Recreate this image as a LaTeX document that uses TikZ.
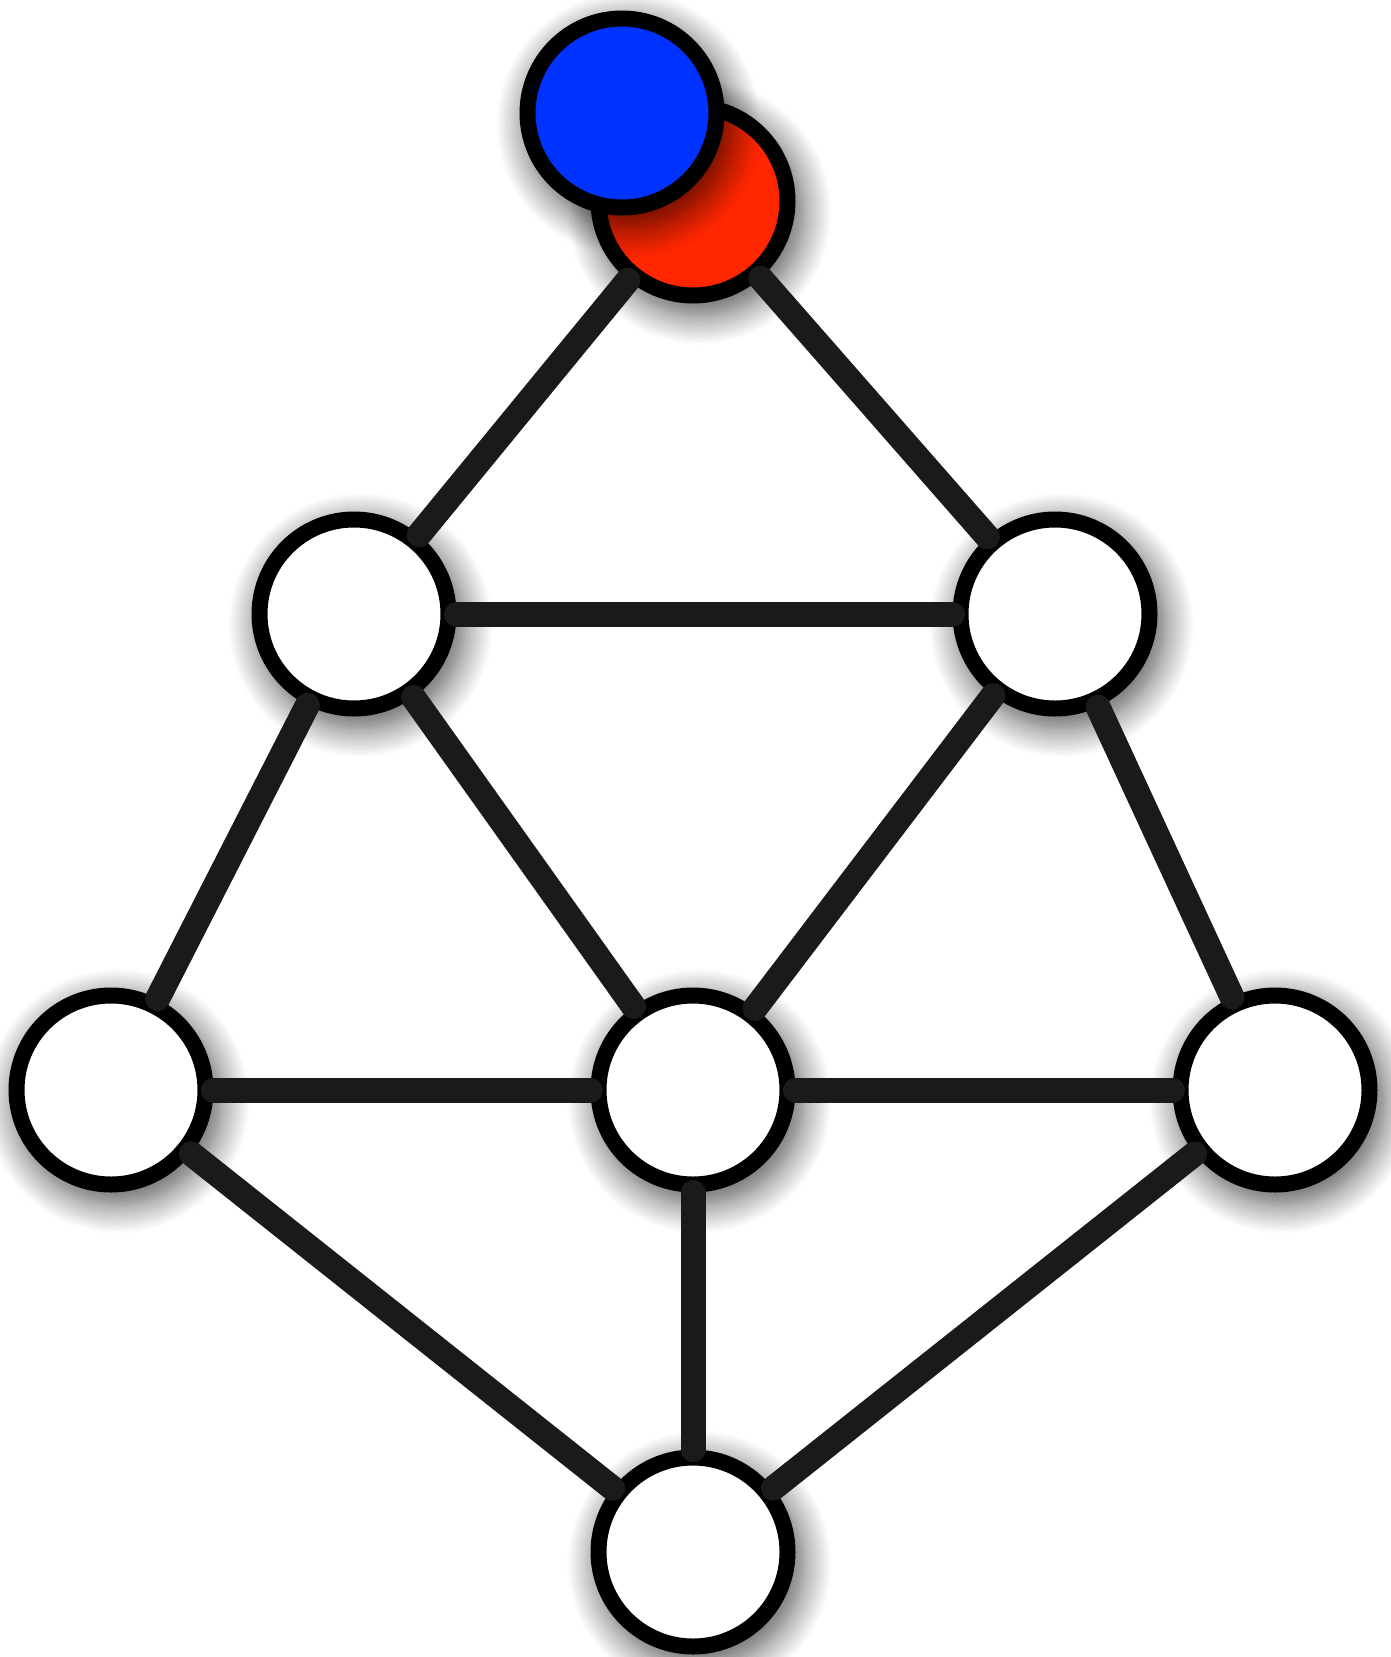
\documentclass[tikz,border=0pt]{standalone}
\usetikzlibrary{shadows.blur}
\definecolor{edgegray}{RGB}{26,26,26}
\definecolor{tokenblue}{RGB}{0,51,255}
\definecolor{tokenred}{RGB}{255,38,0}
\tikzset{
    vertex/.style={circle, draw=black, fill=white, line width=16pt, minimum size=189pt, inner sep=0pt,
        blur shadow={shadow xshift=6pt, shadow yshift=-10pt, shadow scale=1.1, shadow blur radius=26pt, shadow blur steps=12, shadow opacity=65}},
    graphedge/.style={draw=edgegray, line width=25pt, line cap=round}
}

\begin{document}
\begin{tikzpicture}[x=1pt, y=-1pt]
    \useasboundingbox (0,0) rectangle (1391,1657);

    % White vertices
    \foreach \name/\x/\y in {ul/354/614, ur/1055/614, ml/111/1090, mc/693/1090, mr/1275/1090, bt/693/1552} {
        \node[vertex] (\name) at (\x,\y) {};
    }

    % Coloured tokens on top
    \node[vertex, fill=tokenred] (red) at (693,201) {};
    \node[vertex, fill=tokenblue] (blue) at (622,113) {};

    % Edges
    \foreach \a/\b in {red/ul, red/ur, ul/ur, ul/ml, ul/mc, ur/mc, ur/mr, ml/mc, mc/mr, ml/bt, mc/bt, mr/bt} {
        \draw[graphedge] (\a) -- (\b);
    }
\end{tikzpicture}
\end{document}
